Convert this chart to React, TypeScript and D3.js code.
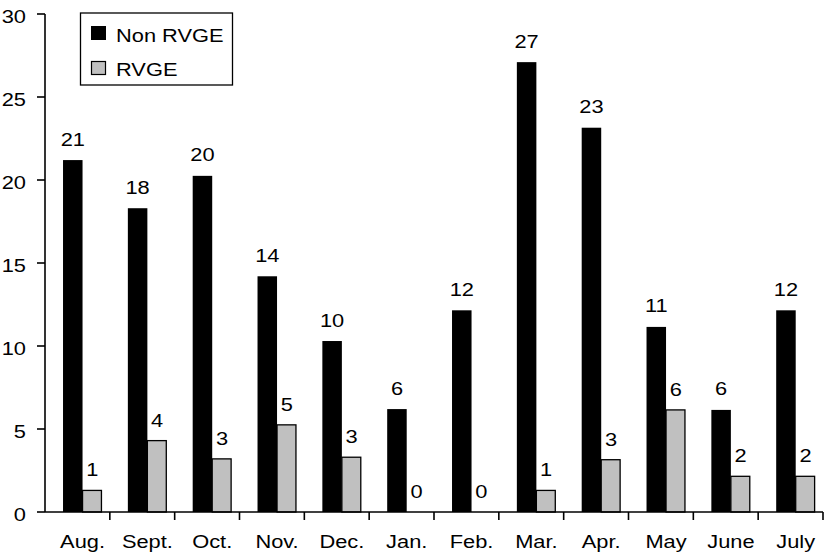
import * as d3 from 'd3'

const W = 825, H = 556
const M = { top: 14, left: 45, right: 2, bottom: 44 }

const months = ['Aug.', 'Sept.', 'Oct.', 'Nov.', 'Dec.', 'Jan.', 'Feb.', 'Mar.', 'Apr.', 'May', 'June', 'July']
// bar heights as drawn in the picture (slightly above their printed labels)
const nonRvge = [21.2, 18.3, 20.25, 14.2, 10.3, 6.2, 12.15, 27.1, 23.15, 11.15, 6.15, 12.15]
const rvge = [1.3, 4.3, 3.2, 5.25, 3.3, 0, 0, 1.3, 3.15, 6.15, 2.15, 2.15]
// printed labels
const nonRvgeLabels = [21, 18, 20, 14, 10, 6, 12, 27, 23, 11, 6, 12]
const rvgeLabels = [1, 4, 3, 5, 3, 0, 0, 1, 3, 6, 2, 2]
const yTicks = [0, 5, 10, 15, 20, 25, 30]
const series = ['Non RVGE', 'RVGE']
const colors = ['#000000', '#c0c0c0']

const FONT = 'Liberation Sans, Arial, Helvetica, sans-serif'
const FS = 18.5
const SX = 1.18

function Txt({ x, y, anchor = 'middle', children }: { x: number; y: number; anchor?: string; children: any }) {
  return (
    <text transform={`translate(${x},${y}) scale(${SX},1)`} textAnchor={anchor} fontFamily={FONT} fontSize={FS} fill="#000">
      {children}
    </text>
  )
}

export default function App() {
  const x = d3.scaleBand<string>().domain(months).range([M.left, W - M.right]).padding(0)
  const bw = x.bandwidth()
  const sub = d3.scaleBand<string>().domain(series).range([bw * 0.278, bw * 0.88]).padding(0)
  const y = d3.scaleLinear().domain([0, 30]).range([H - M.bottom, M.top])
  const y0 = y(0)

  return (
    <div style={{ position: 'absolute', left: 0, top: 0 }}>
      <svg width={W} height={H} style={{ display: 'block', background: '#fff' }}>
        {/* bars */}
        {months.map((m, i) => {
          const bx = x(m)!
          const xa = bx + sub('Non RVGE')!
          const xb = bx + sub('RVGE')!
          const sw = sub.bandwidth()
          return (
            <g key={m}>
              <rect x={xa} y={y(nonRvge[i])} width={sw} height={y0 - y(nonRvge[i])} fill={colors[0]} />
              {rvge[i] > 0 && (
                <rect x={xb} y={y(rvge[i])} width={sw - 0.6} height={y0 - y(rvge[i])} fill={colors[1]} stroke="#000" strokeWidth={1.3} />
              )}
              <Txt x={xa + sw / 2} y={y(nonRvge[i]) - 14.5}>{nonRvgeLabels[i]}</Txt>
              <Txt x={xb + sw / 2} y={y(rvge[i]) - (rvge[i] > 0 ? 14 : 14.5)}>{rvgeLabels[i]}</Txt>
              <Txt x={bx + sub('RVGE')!} y={548}>{m}</Txt>
            </g>
          )
        })}

        {/* y axis */}
        <line x1={M.left} x2={M.left} y1={y(30)} y2={y0} stroke="#000" strokeWidth={1.6} />
        {yTicks.map((t) => (
          <g key={t}>
            <line x1={M.left - 8} x2={M.left} y1={y(t)} y2={y(t)} stroke="#000" strokeWidth={1.6} />
            <Txt x={26} y={y(t) + 8.5} anchor="end">{t}</Txt>
          </g>
        ))}

        {/* x axis */}
        <line x1={M.left} x2={W - M.right} y1={y0} y2={y0} stroke="#000" strokeWidth={1.6} />
        {months.map((m) => (
          <line key={m} x1={x(m)! + bw} x2={x(m)! + bw} y1={y0} y2={y0 + 8} stroke="#000" strokeWidth={1.6} />
        ))}

        {/* legend */}
        <rect x={80.5} y={13} width={152} height={72} fill="#fff" stroke="#000" strokeWidth={1.3} />
        <rect x={91} y={26} width={15} height={14} fill={colors[0]} />
        <rect x={91.5} y={61.5} width={14} height={13} fill={colors[1]} stroke="#000" strokeWidth={1.2} />
        <Txt x={116} y={41.5} anchor="start">{series[0]}</Txt>
        <Txt x={116} y={76} anchor="start">{series[1]}</Txt>
      </svg>
    </div>
  )
}
